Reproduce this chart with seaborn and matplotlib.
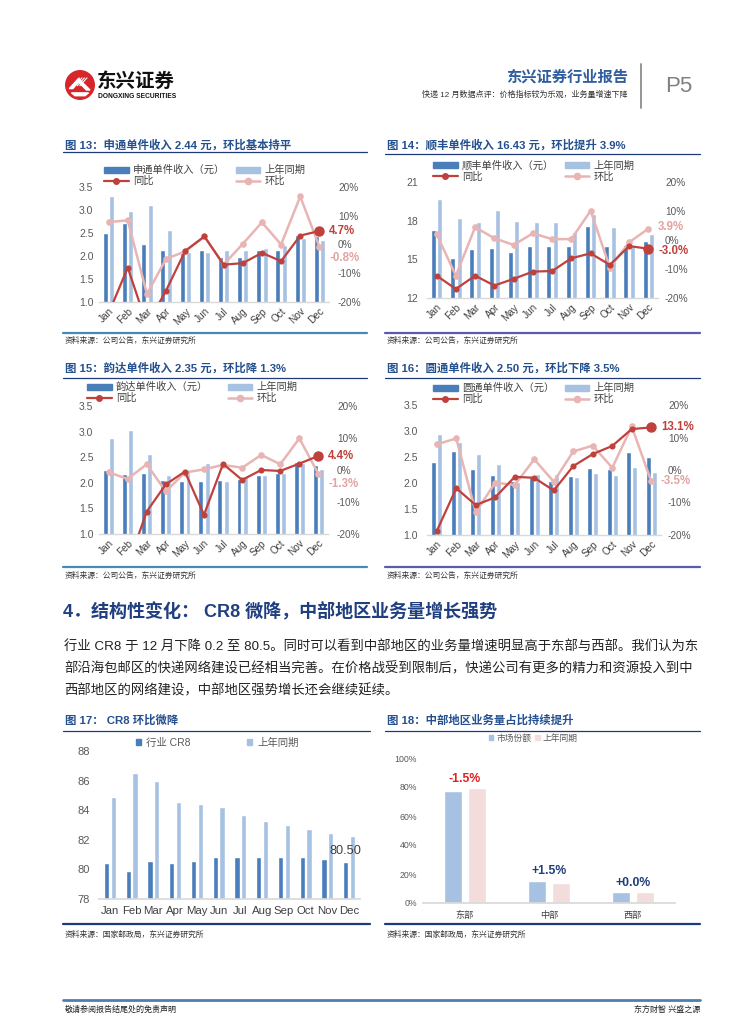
import numpy as np
import pandas as pd
import matplotlib
matplotlib.use("Agg")
import matplotlib.pyplot as plt
import seaborn as sns
from matplotlib.patches import Patch, Circle, Polygon
from matplotlib.lines import Line2D

sns.set_theme(style="white")
plt.rcParams["font.family"] = ["Liberation Sans", "Noto Sans CJK SC", "DejaVu Sans"]
plt.rcParams["axes.unicode_minus"] = False

# ---------------- data ----------------
months = ["Jan", "Feb", "Mar", "Apr", "May", "Jun", "Jul", "Aug", "Sep", "Oct", "Nov", "Dec"]

# 图13 申通
sto_price = [2.51, 2.72, 2.26, 2.14, 2.07, 2.12, 1.97, 1.97, 2.12, 2.12, 2.46, 2.44]
sto_prev = [3.30, 2.97, 3.11, 2.56, 2.09, 2.08, 2.12, 2.12, 2.18, 2.25, 2.40, 2.34]
sto_yoy = [-24.0, -8.0, -28.0, -16.0, -2.2, 2.8, -7.0, -6.5, -2.9, -5.8, 3.1, 4.7]
sto_mom = [7.8, 8.4, -17.2, -5.0, -2.4, 2.8, -7.0, 0.2, 7.7, 0.0, 16.7, -0.8]

# 图14 顺丰
sf_price = [17.3, 15.1, 15.8, 15.9, 15.6, 16.0, 16.0, 16.0, 17.6, 16.0, 16.1, 16.43]
sf_prev = [19.7, 18.2, 17.9, 18.8, 18.0, 17.9, 17.9, 17.1, 18.5, 17.5, 16.0, 17.0]
sf_yoy = [-12.3, -16.9, -12.3, -15.7, -13.4, -10.9, -10.7, -6.3, -4.6, -8.6, -2.1, -3.0]
sf_mom = [2.0, -12.3, 4.4, 0.6, -1.7, 2.3, 0.3, 0.3, 10.1, -9.5, -0.8, 3.9]

# 图15 韵达
yd_price = [2.25, 2.18, 2.19, 2.05, 2.03, 2.03, 2.05, 2.07, 2.16, 2.19, 2.41, 2.35]
yd_prev = [2.88, 3.03, 2.56, 2.16, 2.22, 2.38, 2.03, 2.14, 2.16, 2.19, 2.38, 2.27]
yd_yoy = [-27.0, -30.0, -13.0, -4.5, -0.5, -14.0, 1.9, -3.1, 0.0, -0.3, 2.0, 4.4]
yd_mom = [-0.7, -2.8, 1.8, -6.7, -0.8, 0.2, 1.6, 0.7, 4.7, 1.8, 9.9, -1.3]

# 图16 圆通
yto_price = [2.40, 2.62, 2.26, 2.15, 2.03, 2.11, 2.03, 2.14, 2.28, 2.27, 2.59, 2.50]
yto_prev = [2.94, 2.78, 2.55, 2.36, 2.02, 2.17, 2.17, 2.12, 2.19, 2.15, 2.30, 2.22]
yto_yoy = [-18.8, -5.6, -10.8, -8.4, -2.1, -2.4, -6.3, 1.2, 4.9, 7.4, 12.6, 13.1]
yto_mom = [7.9, 9.7, -13.0, -3.9, -4.6, 3.3, -3.6, 5.7, 7.5, 0.7, 13.4, -3.5]

# 图17 CR8
cr8 = [80.40, 79.89, 80.54, 80.40, 80.54, 80.85, 80.85, 80.85, 80.85, 80.85, 80.72, 80.50]
cr8_prev = [84.90, 86.50, 85.98, 84.58, 84.45, 84.20, 83.66, 83.24, 82.97, 82.72, 82.45, 82.25]

# 图18 区域份额
regions = ["东部", "中部", "西部"]
share = [77.4, 15.5, 7.6]
share_prev = [79.2, 14.0, 7.6]
change_labels = ["-1.5%", "+1.5%", "+0.0%"]

# ---------------- style ----------------
BAR_D = "#4A7EBB"
BAR_L = "#A7C1E3"
RED = "#C0403C"
PINK = "#E8B5B4"
PINK_L = "#F2DCDC"
TITLE_C = "#24508F"
NAVY = "#1F3A7A"
TXT = "#404040"
TICK = "#595959"

W, H = 755, 1024
fig = plt.figure(figsize=(W / 100, H / 100), dpi=100)
fig.patch.set_facecolor("white")


def fx(x):
    return x / W


def fy(y):
    return 1 - y / H


def add_ax(x0, y0, x1, y1):
    return fig.add_axes([fx(x0), fy(y1), (x1 - x0) / W, (y1 - y0) / H])


def hline(x0, x1, y, color, lw):
    fig.add_artist(Line2D([fx(x0), fx(x1)], [fy(y), fy(y)], color=color, lw=lw))


def block(x0, x1, y_title, y_line, title, y_src_line, y_src, src, src_line_color):
    fig.text(fx(x0 + 2), fy(y_title), title, color=TITLE_C, fontsize=8.2,
             fontweight="bold", va="center", ha="left")
    hline(x0, x1, y_line, NAVY, 0.9)
    hline(x0, x1, y_src_line, src_line_color, 1.6)
    fig.text(fx(x0 + 2), fy(y_src), src, color="#333333", fontsize=5.6,
             va="center", ha="left", style="italic")


def combo(box, cur, prev, yoy, mom, name, ylim, yticks, yfmt,
          lbl_yoy, lbl_mom, dy_yoy, dy_mom, leg_xy, colsp, lpad, rpad):
    ax = add_ax(*box)
    df = pd.DataFrame({"month": months * 2, "value": cur + prev,
                       "series": [name] * 12 + ["上年同期"] * 12})
    sns.barplot(data=df, x="month", y="value", hue="series", palette=[BAR_D, BAR_L],
                width=0.66, gap=0.22, errorbar=None, legend=False, saturation=1, ax=ax)
    ax.set_ylim(*ylim)
    ax.set_yticks(yticks)
    ax.set_yticklabels([yfmt.format(t) for t in yticks])
    ax.set_xlim(-0.5, 11.5)
    ax.set_xticks(range(12))
    ax.set_xticklabels(months, rotation=45, ha="right", rotation_mode="anchor")
    ax.set_xlabel("")
    ax.set_ylabel("")
    ax.tick_params(axis="y", length=0, pad=lpad, labelsize=7.5, labelcolor=TICK)
    ax.tick_params(axis="x", length=0, pad=3, labelsize=7.2, labelcolor=TXT)
    sns.despine(ax=ax, left=True)
    ax.spines["bottom"].set_color("#D9D9D9")
    ax.spines["bottom"].set_linewidth(1.0)

    ax2 = ax.twinx()
    x = np.arange(12)
    sns.lineplot(x=x, y=mom, ax=ax2, color=PINK, lw=1.8, marker="o", markersize=4.8,
                 markeredgecolor=PINK, markeredgewidth=0)
    sns.lineplot(x=x, y=yoy, ax=ax2, color=RED, lw=1.6, marker="o", markersize=4.4,
                 markeredgecolor=RED, markeredgewidth=0)
    ax2.plot([11], [yoy[-1]], "o", color=RED, ms=6.5)
    ax2.set_ylim(-20, 20)
    ax2.set_yticks([-20, -10, 0, 10, 20])
    ax2.set_yticklabels([f"{t}%" for t in [-20, -10, 0, 10, 20]])
    ax2.tick_params(axis="y", length=0, pad=rpad, labelsize=7.2, labelcolor=TICK)
    ax2.set_ylabel("")
    for s in ax2.spines.values():
        s.set_visible(False)
    ax2.grid(False)

    ax2.annotate(lbl_yoy, xy=(11, yoy[-1]), xytext=(7, dy_yoy), textcoords="offset points",
                 color=RED, fontsize=8.3, fontweight="bold", va="center", ha="left",
                 annotation_clip=False)
    ax2.annotate(lbl_mom, xy=(11, mom[-1]), xytext=(7, dy_mom), textcoords="offset points",
                 color="#E2A3A2", fontsize=8.3, fontweight="bold", va="center", ha="left",
                 annotation_clip=False)

    handles = [Patch(color=BAR_D),
               Line2D([], [], color=RED, lw=1.6, marker="o", ms=4),
               Patch(color=BAR_L),
               Line2D([], [], color=PINK, lw=1.8, marker="o", ms=4.5)]
    labels = [name, "同比", "上年同期", "环比"]
    fig.legend(handles, labels, loc="upper left", bbox_to_anchor=(fx(leg_xy[0]), fy(leg_xy[1])),
               bbox_transform=fig.transFigure, ncol=2, frameon=False, fontsize=7.4,
               handlelength=2.4, handleheight=0.55, labelspacing=0.08, columnspacing=colsp,
               handletextpad=0.4, borderpad=0, borderaxespad=0, labelcolor=TXT)
    return ax


# ---------------- header ----------------
logo = fig.add_axes([fx(65), fy(100), 30 / W, 30 / H])
logo.set_xlim(-1.05, 1.05)
logo.set_ylim(-1.05, 1.05)
logo.set_aspect("equal")
logo.axis("off")
logo.add_patch(Circle((0, 0), 1.0, color="#D6262B"))
logo.add_patch(Polygon([[-0.75, -0.25], [-0.1, 0.45], [0.7, -0.35], [0.45, -0.35],
                        [-0.1, 0.2], [-0.5, -0.25]], closed=True, color="white"))
for k in range(4):
    logo.plot([-0.55 + 0.18 * k, -0.05 + 0.18 * k], [-0.05, 0.5], color="white", lw=0.8)
logo.add_patch(Polygon([[-0.6, -0.55], [0.6, -0.55], [0.35, -0.75], [-0.35, -0.75]],
                       closed=True, color="white"))

fig.text(fx(97), fy(82), "东兴证券", fontsize=14, fontweight="bold", color="#111111",
         va="center", ha="left")
fig.text(fx(98), fy(97), "DONGXING SECURITIES", fontsize=4.8, fontweight="bold",
         color="#111111", va="center", ha="left")
fig.text(fx(628), fy(77), "东兴证券行业报告", fontsize=11, fontweight="bold", color="#2F5D9E",
         va="center", ha="right")
fig.text(fx(628), fy(95), "快递 12 月数据点评：价格指标较为乐观，业务量增速下降", fontsize=5.8,
         color="#333333", va="center", ha="right")
fig.add_artist(Line2D([fx(641), fx(641)], [fy(64), fy(108)], color="#8C8C8C", lw=1.3))
fig.text(fx(665), fy(86), "P5", fontsize=16, color="#808080", va="center", ha="left")

# ---------------- charts 13-16 ----------------
LEFT_SRC = "#4A8AB0"
RIGHT_SRC = "#5B5BAE"
src_co = "资料来源：公司公告，东兴证券研究所"

block(63, 367, 145, 152, "图 13：申通单件收入 2.44 元，环比基本持平", 333, 341, src_co, LEFT_SRC)
combo((99, 187, 329, 302), sto_price, sto_prev, sto_yoy, sto_mom, "申通单件收入（元）",
      (1.0, 3.5), [1.0, 1.5, 2.0, 2.5, 3.0, 3.5], "{:.1f}", "4.7%", "-0.8%", 0, -8,
      (104, 165), 1.05, 4, 6.5)

block(385, 700, 145, 154, "图 14：顺丰单件收入 16.43 元，环比提升 3.9%", 333, 341, src_co, RIGHT_SRC)
combo((427, 182, 658, 298), sf_price, sf_prev, sf_yoy, sf_mom, "顺丰单件收入（元）",
      (12, 21), [12, 15, 18, 21], "{:.0f}", "-3.0%", "3.9%", -2, 1.5,
      (433, 160), 1.05, 6.5, 5)

block(63, 367, 368, 378, "图 15：韵达单件收入 2.35 元，环比降 1.3%", 567, 576, src_co, LEFT_SRC)
combo((99, 406, 328, 534), yd_price, yd_prev, yd_yoy, yd_mom, "韵达单件收入（元）",
      (1.0, 3.5), [1.0, 1.5, 2.0, 2.5, 3.0, 3.5], "{:.1f}", "4.4%", "-1.3%", 0, -7,
      (87, 382), 1.9, 4, 6.5)

block(385, 700, 368, 378, "图 16：圆通单件收入 2.50 元，环比下降 3.5%", 567, 576, src_co, RIGHT_SRC)
combo((427, 405, 661, 535), yto_price, yto_prev, yto_yoy, yto_mom, "圆通单件收入（元）",
      (1.0, 3.5), [1.0, 1.5, 2.0, 2.5, 3.0, 3.5], "{:.1f}", "13.1%", "-3.5%", 0, 0,
      (433, 383), 1.05, 6.5, 5)

# ---------------- section text ----------------
fig.text(fx(63), fy(611), "4．结构性变化： CR8 微降，中部地区业务量增长强势", fontsize=13,
         fontweight="bold", color="#203F80", va="center", ha="left")
para = ["行业 CR8 于 12 月下降 0.2 至 80.5。同时可以看到中部地区的业务量增速明显高于东部与西部。我们认为东",
        "部沿海包邮区的快递网络建设已经相当完善。在价格战受到限制后，快递公司有更多的精力和资源投入到中",
        "西部地区的网络建设，中部地区强势增长还会继续延续。"]
for i, line in enumerate(para):
    fig.text(fx(64), fy(647 + 22 * i), line, fontsize=9.6, color="#222222", va="center", ha="left")

# ---------------- chart 17 ----------------
src_gov = "资料来源：国家邮政局，东兴证券研究所"
block(63, 370, 720, 731, "图 17： CR8 环比微降", 924, 935, src_gov, NAVY)
ax17 = add_ax(99, 751, 360, 899)
df17 = pd.DataFrame({"month": months * 2, "value": cr8 + cr8_prev,
                     "series": ["行业CR8"] * 12 + ["上年同期"] * 12})
sns.barplot(data=df17, x="month", y="value", hue="series", palette=[BAR_D, BAR_L],
            width=0.62, gap=0.22, errorbar=None, legend=False, saturation=1, ax=ax17)
ax17.set_ylim(78, 88)
ax17.set_yticks([78, 80, 82, 84, 86, 88])
ax17.set_xlabel("")
ax17.set_ylabel("")
ax17.tick_params(axis="y", length=0, pad=6.5, labelsize=8, labelcolor=TICK)
ax17.tick_params(axis="x", length=0, pad=5, labelsize=8.2, labelcolor=TXT)
sns.despine(ax=ax17, left=True)
ax17.spines["bottom"].set_color("#D9D9D9")
dec_bar = ax17.containers[0][11]
ax17.annotate(f"{cr8[-1]:.2f}", xy=(dec_bar.get_x() + dec_bar.get_width() / 2, dec_bar.get_height()),
              xytext=(0, 3.5), textcoords="offset points", ha="center", va="bottom",
              fontsize=9.2, color="#404040")
fig.legend([Patch(color=BAR_D), Patch(color=BAR_L)], ["行业 CR8", "上年同期"], loc="center left",
           bbox_to_anchor=(fx(136), fy(743)), bbox_transform=fig.transFigure, ncol=2, frameon=False,
           fontsize=7.5, handlelength=0.5, handleheight=0.5, handletextpad=0.5, columnspacing=5.4,
           borderpad=0, borderaxespad=0, labelcolor=TICK)

# ---------------- chart 18 ----------------
block(385, 700, 720, 731, "图 18：中部地区业务量占比持续提升", 924, 935, src_gov, NAVY)
ax18 = add_ax(423, 758, 675, 903)
df18 = pd.DataFrame({"region": regions * 2, "value": share + share_prev,
                     "series": ["市场份额"] * 3 + ["上年同期"] * 3})
sns.barplot(data=df18, x="region", y="value", hue="series", palette=[BAR_L, PINK_L],
            width=0.58, gap=0.26, errorbar=None, legend=False, saturation=1, ax=ax18)
ax18.set_ylim(0, 100)
ax18.set_yticks([0, 20, 40, 60, 80, 100])
ax18.set_yticklabels([f"{t}%" for t in [0, 20, 40, 60, 80, 100]])
ax18.set_xlabel("")
ax18.set_ylabel("")
ax18.tick_params(axis="y", length=0, pad=4.5, labelsize=6.3, labelcolor=TICK)
ax18.tick_params(axis="x", length=0, pad=6, labelsize=6.6, labelcolor=TXT)
sns.despine(ax=ax18, left=True)
ax18.spines["bottom"].set_color("#D9D9D9")
for i, lab in enumerate(change_labels):
    top = max(share[i], share_prev[i])
    ax18.annotate(lab, xy=(i, top), xytext=(0, 2.5), textcoords="offset points", ha="center",
                  va="bottom", fontsize=8.8, fontweight="bold",
                  color="#E0201F" if lab.startswith("-") else "#1F3E7A")
fig.legend([Patch(color=BAR_L), Patch(color=PINK_L)], ["市场份额", "上年同期"], loc="center left",
           bbox_to_anchor=(fx(489), fy(738)), bbox_transform=fig.transFigure, ncol=2, frameon=False,
           fontsize=6.3, handlelength=0.5, handleheight=0.6, handletextpad=0.3, columnspacing=0.5,
           borderpad=0, borderaxespad=0, labelcolor=TICK)

# ---------------- footer ----------------
hline(63, 700, 1000, "#4F7FB0", 2.0)
fig.text(fx(65), fy(1010), "敬请参阅报告结尾处的免责声明", fontsize=5.8, color="#222222",
         va="center", ha="left")
fig.text(fx(700), fy(1010), "东方财智 兴盛之源", fontsize=5.8, color="#222222",
         va="center", ha="right")

fig.savefig("out.png", dpi=100, facecolor="white")
